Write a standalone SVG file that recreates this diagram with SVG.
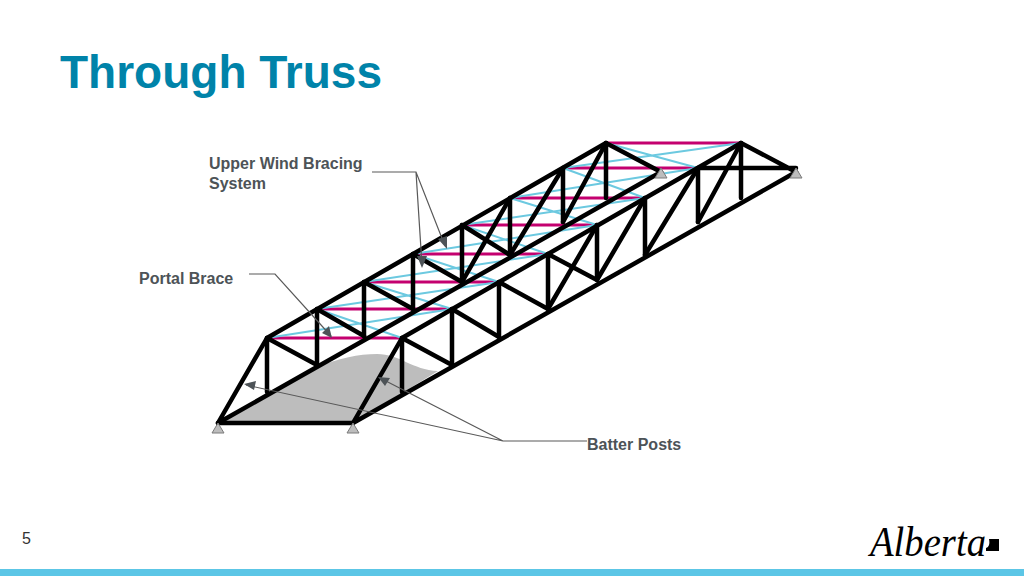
<svg xmlns="http://www.w3.org/2000/svg" width="1024" height="576" viewBox="0 0 1024 576">
<style>
.m{stroke:#c4006f;stroke-width:3;fill:none}
.c{stroke:#6cc9e0;stroke-width:2;fill:none}
.k{stroke:#000;stroke-width:4.5;fill:none;stroke-linecap:round;stroke-linejoin:round}
.a{stroke:#595959;stroke-width:1.2;fill:none}
.h{fill:#4d5357}
.s{fill:#bdbdbd;stroke:#7a7a7a;stroke-width:1}
.l{font:bold 16px "Liberation Sans",Arial,sans-serif;fill:#4d5357}
</style>
<rect width="1024" height="576" fill="#fff"/>
<text x="60" y="88" style="font:bold 46px 'Liberation Sans',Arial,sans-serif;fill:#0083a9">Through Truss</text>
<g id="deck"><path d="M218 423L317 367C340 358 358 354 377 354C400 354 412 370 438 371L353 423Z" fill="#bdbdbd"/></g>
<g id="struts">
<path class="m" d="M267 338H402M317 309H452M364 282H499M413 254H548M462 225H597M510 198H645M563 168H698M606 143H741"/>
<path class="c" d="M267 338L452 309M317 309L402 338M317 309L499 282M364 282L452 309M364 282L548 254M413 254L499 282M413 254L597 225M462 225L548 254M462 225L645 198M510 198L597 225M510 198L698 168M563 168L645 198M563 168L741 143M606 143L698 168"/>
</g>
<g id="far-truss">
<path class="k" d="M218 423L267 338L606 143L661 172M218 423L661 172"/>
<path class="k" d="M267 338V392M317 309V365M364 282V336M413 254V309M462 225V282M510 198V255M563 168V222M606 143V198"/>
<path class="k" d="M267 338L317 365M317 309L364 336M364 282L413 309M413 254L462 282M462 225L510 255M462 282L510 198M510 255L563 168M563 222L606 143"/>
</g>
<g id="near-truss">
<path class="k" d="M353 423L402 338L741 143L796 172M353 423L796 172M698 168H796"/>
<path class="k" d="M402 338V392M452 309V365M499 282V337M548 254V309M597 225V280M645 198V255M698 168V222M741 143V198"/>
<path class="k" d="M402 338L452 365M452 309L499 337M499 282L548 309M548 254L597 280M548 309L597 225M597 280L645 198M645 255L698 168M698 222L741 143"/>
</g>
<path class="k" d="M218 423H353"/>
<g id="support-1"><path class="s" d="M218 423L224 433H212Z"/></g>
<g id="support-2"><path class="s" d="M353 423L359 433H347Z"/></g>
<g id="support-3"><path class="s" d="M661 168L667 178H655Z"/></g>
<g id="support-4"><path class="s" d="M796 168L802 178H790Z"/></g>
<g id="connectors">
<path class="a" d="M372 172H416L445 246M416 172L422 265M249 274H275L331 336M587 441H503L246 385M503 441L380 378"/>
<path class="h" d="M447 249L438 239L447 236ZM422 268L417 256L427 256ZM332 338L322 333L329 326ZM244 384L256 381L254 390ZM378 377L390 378L385 386Z"/>
</g>
<g id="label-wind"><text class="l" x="209" y="169">Upper Wind Bracing</text><text class="l" x="209" y="189">System</text></g>
<g id="label-portal"><text class="l" x="139" y="284">Portal Brace</text></g>
<g id="label-batter"><text class="l" x="587" y="450">Batter Posts</text></g>
<text x="22" y="544" style="font:16px 'Liberation Sans',Arial,sans-serif;fill:#333">5</text>
<g id="logo"><text x="870" y="556" style="font:italic 42px 'Liberation Serif',serif;fill:#000" textLength="116" lengthAdjust="spacingAndGlyphs">Alberta</text><path d="M989 539H999V551H986V548C989 547 990 544 989 539Z" fill="#000"/></g>
<rect y="569" width="1024" height="7" fill="#5cc6e6"/>
</svg>
